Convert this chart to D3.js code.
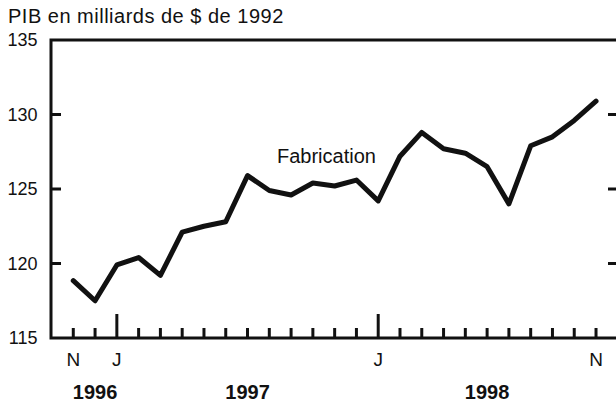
<!DOCTYPE html>
<html>
<head>
<meta charset="utf-8">
<script src="https://cdn.jsdelivr.net/npm/d3@7"></script>
<style>
  body { margin: 0; background: #fff; }
  svg text { font-family: "Liberation Sans", Arial, sans-serif; fill: #111; }
</style>
</head>
<body>
<svg id="chart" width="616" height="407"></svg>
<script>
// monthly GDP, manufacturing, Nov 1996 -> Nov 1998
const months = ["N","D","J","F","M","A","M","J","J","A","S","O","N","D","J","F","M","A","M","J","J","A","S","O","N"];
const fabrication = [118.85, 117.5, 119.9, 120.4, 119.2, 122.1, 122.5, 122.8, 125.9, 124.9, 124.6, 125.4,
                     125.2, 125.6, 124.2, 127.2, 128.8, 127.7, 127.4, 126.5, 124.0, 127.9, 128.5, 129.6, 130.9];
const labelledMonths = [0, 2, 14, 24];
const januaries = [2, 14];
const years = [{ label: "1996", at: 1 }, { label: "1997", at: 8 }, { label: "1998", at: 19 }];
const yTicks = [115, 120, 125, 130, 135];

const svg = d3.select("#chart");
const mLeft = 51, mTop = 40, mBottom = 338, mRight = 616;

const x = d3.scaleLinear().domain([-1, 25]).range([51.5, 617.8]);
const y = d3.scaleLinear().domain([115, 135]).range([mBottom, mTop]);

// title
svg.append("text").attr("x", 8).attr("y", 23)
  .style("font-size", "20px").style("letter-spacing", "0.5px")
  .text("PIB en milliards de $ de 1992");

// y labels
svg.selectAll(".ylab").data(yTicks).enter().append("text")
  .attr("x", 37.5).attr("y", d => y(d)).attr("dy", "0.36em")
  .attr("text-anchor", "end").style("font-size", "18px").text(d => d);

// inner ticks left and right
const innerTicks = yTicks.filter(d => d > 115 && d < 135);
svg.selectAll(".ltick").data(innerTicks).enter().append("line")
  .attr("x1", mLeft).attr("x2", mLeft + 10).attr("y1", d => y(d)).attr("y2", d => y(d))
  .attr("stroke", "#111").attr("stroke-width", 3);
svg.selectAll(".rtick").data(innerTicks).enter().append("line")
  .attr("x1", 608).attr("x2", mRight).attr("y1", d => y(d)).attr("y2", d => y(d))
  .attr("stroke", "#111").attr("stroke-width", 3);

// month ticks
svg.selectAll(".mtick").data(months).enter().append("line")
  .attr("x1", (d, i) => x(i)).attr("x2", (d, i) => x(i))
  .attr("y1", (d, i) => januaries.includes(i) ? mBottom - 24 : mBottom - 10)
  .attr("y2", mBottom)
  .attr("stroke", "#111").attr("stroke-width", 3);

// frame: left, top, bottom
svg.append("path")
  .attr("d", `M${mRight},${mTop}H${mLeft}V${mBottom}H${mRight}`)
  .attr("fill", "none").attr("stroke", "#111").attr("stroke-width", 3);

// month labels
svg.selectAll(".mlab").data(labelledMonths).enter().append("text")
  .attr("x", i => x(i)).attr("y", 366)
  .attr("text-anchor", "middle").style("font-size", "19px").text(i => months[i]);

// year labels
svg.selectAll(".year").data(years).enter().append("text")
  .attr("x", d => x(d.at)).attr("y", 399)
  .attr("text-anchor", "middle").style("font-size", "20px").style("font-weight", "bold")
  .text(d => d.label);

// series line
const line = d3.line().x((d, i) => x(i)).y(d => y(d));
svg.append("path").datum(fabrication)
  .attr("d", line)
  .attr("fill", "none").attr("stroke", "#111").attr("stroke-width", 5)
  .attr("stroke-linejoin", "round").attr("stroke-linecap", "round");

svg.append("text").attr("x", 277).attr("y", 163)
  .style("font-size", "20px").text("Fabrication");
</script>
</body>
</html>
